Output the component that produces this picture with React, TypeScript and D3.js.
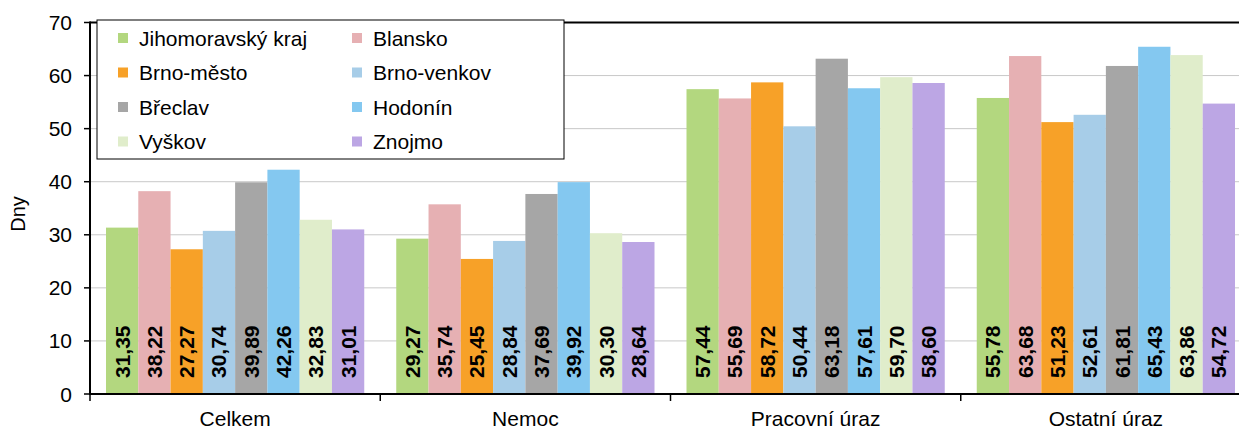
import React from "react";
import * as d3 from "d3";

const categories = ["Celkem", "Nemoc", "Pracovní úraz", "Ostatní úraz"];
const seriesNames = [
  "Jihomoravský kraj",
  "Blansko",
  "Brno-město",
  "Brno-venkov",
  "Břeclav",
  "Hodonín",
  "Vyškov",
  "Znojmo",
];
const seriesColors = [
  "#b3d77f",
  "#e6b0b3",
  "#f7a128",
  "#a7cde8",
  "#a6a6a6",
  "#84c8f0",
  "#e0edcb",
  "#bca6e4",
];
const jihomoravsky = [31.35, 29.27, 57.44, 55.78];
const blansko = [38.22, 35.74, 55.69, 63.68];
const brnoMesto = [27.27, 25.45, 58.72, 51.23];
const brnoVenkov = [30.74, 28.84, 50.44, 52.61];
const breclav = [39.89, 37.69, 63.18, 61.81];
const hodonin = [42.26, 39.92, 57.61, 65.43];
const vyskov = [32.83, 30.3, 59.7, 63.86];
const znojmo = [31.01, 28.64, 58.6, 54.72];
const seriesValues = [jihomoravsky, blansko, brnoMesto, brnoVenkov, breclav, hodonin, vyskov, znojmo];
const yTicks = [0, 10, 20, 30, 40, 50, 60, 70];
const yLabel = "Dny";

const W = 1239;
const H = 430;
const FONT = "'Liberation Sans', Arial, sans-serif";

export default function App() {
  const left = 90;
  const right = 1251;
  const top = 22.5;
  const bottom = 394;
  const y = d3.scaleLinear().domain([0, 70]).range([bottom, top]);
  const x0 = d3.scaleBand<string>().domain(categories).range([left, right]).padding(0);
  const bw = x0.bandwidth();
  const x1 = d3
    .scaleBand<string>()
    .domain(seriesNames)
    .range([16, bw - 16])
    .padding(0);
  const fmt = (v: number) => v.toFixed(2).replace(".", ",");

  const legendRowsY = [38, 72.5, 107, 141.5];
  const legendColX = [118, 352];

  return (
    <svg
      width={W}
      height={H}
      style={{ position: "absolute", left: 0, top: 0, background: "#fff" }}
      fontFamily={FONT}
    >
      {/* gridlines */}
      {yTicks.slice(1, -1).map((t) => (
        <line key={"g" + t} x1={left} x2={right} y1={y(t)} y2={y(t)} stroke="#c8c8c8" strokeWidth={1} />
      ))}
      <line x1={left} x2={right} y1={y(70)} y2={y(70)} stroke="#000" strokeWidth={2} />

      {/* bars */}
      {categories.map((c, ci) => (
        <g key={c} transform={`translate(${x0(c)},0)`}>
          {seriesNames.map((s, si) => {
            const v = seriesValues[si][ci];
            const bx = x1(s)!;
            const w = x1.bandwidth();
            return (
              <g key={s}>
                <rect x={bx} y={y(v)} width={w} height={y(0) - y(v)} fill={seriesColors[si]} />
                <text
                  transform={`translate(${bx + w / 2 + 7.5},${y(0) - 16}) rotate(-90)`}
                  fontSize={21}
                  fontWeight="bold"
                  fill="#000"
                >
                  {fmt(v)}
                </text>
              </g>
            );
          })}
        </g>
      ))}

      {/* y axis */}
      <line x1={left} x2={left} y1={top - 1} y2={bottom + 1} stroke="#000" strokeWidth={2} />
      {yTicks.map((t) => (
        <g key={"t" + t}>
          <line x1={left - 6} x2={left} y1={y(t)} y2={y(t)} stroke="#000" strokeWidth={1.5} />
          <text x={72} y={y(t) + 7.5} textAnchor="end" fontSize={21} fill="#000">
            {t}
          </text>
        </g>
      ))}
      <text transform={`translate(25,214) rotate(-90)`} textAnchor="middle" fontSize={20} fill="#000">
        {yLabel}
      </text>

      {/* x axis */}
      <line x1={left} x2={right} y1={bottom} y2={bottom} stroke="#000" strokeWidth={2} />
      {[...categories.map((c) => x0(c)!), right].map((px, i) => (
        <line key={"xt" + i} x1={px} x2={px} y1={bottom} y2={bottom + 7} stroke="#000" strokeWidth={1.5} />
      ))}
      {categories.map((c) => (
        <text key={"cl" + c} x={x0(c)! + bw / 2} y={426} textAnchor="middle" fontSize={21} fill="#000">
          {c}
        </text>
      ))}

      {/* legend */}
      <rect x={97} y={20} width={467} height={139} fill="#fff" stroke="#000" strokeWidth={1} />
      {seriesNames.map((s, i) => {
        const col = i % 2;
        const row = Math.floor(i / 2);
        const lx = legendColX[col];
        const ly = legendRowsY[row];
        return (
          <g key={"l" + s}>
            <rect x={lx} y={ly - 5} width={10} height={10} fill={seriesColors[i]} />
            <text x={lx + 21} y={ly + 7.5} fontSize={21} fill="#000">
              {s}
            </text>
          </g>
        );
      })}
    </svg>
  );
}
